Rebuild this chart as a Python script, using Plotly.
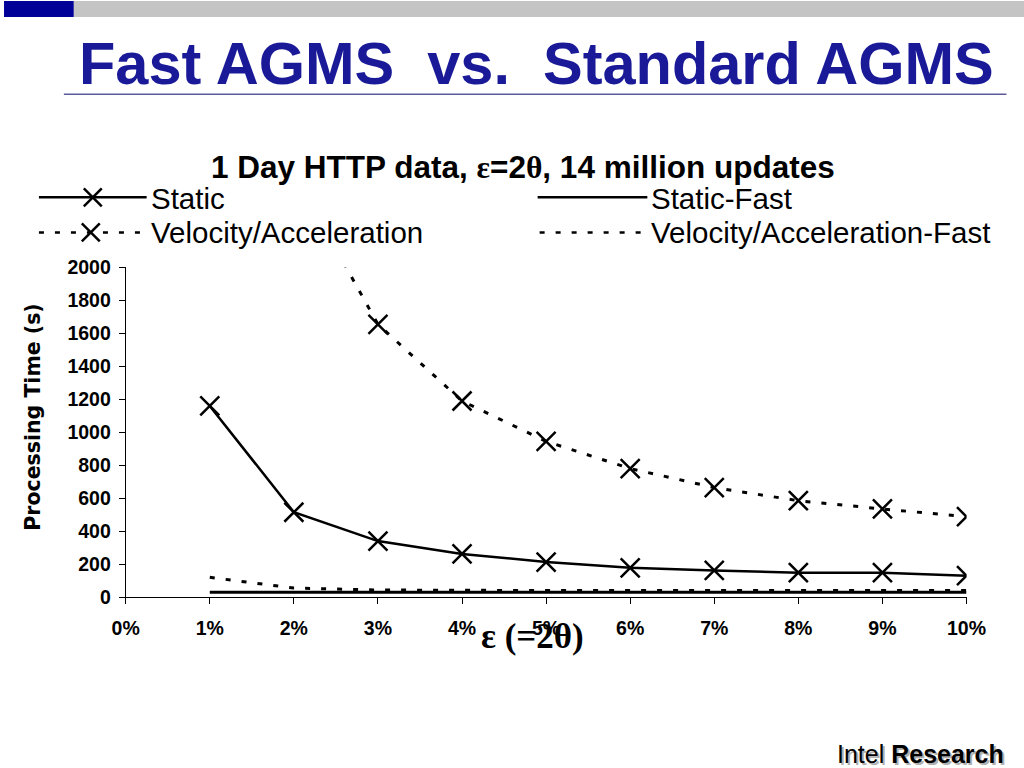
import plotly.graph_objects as go

# ---- data ----
eps = [0.01, 0.02, 0.03, 0.04, 0.05, 0.06, 0.07, 0.08, 0.09, 0.10]
static = [1160, 515, 340, 262, 213, 178, 162, 148, 148, 130]
static_fast = [30, 30, 30, 30, 30, 30, 30, 30, 30, 30]
vel_acc = [4200, 2570, 1655, 1190, 945, 780, 665, 585, 535, 488]
vel_acc_fast = [120, 55, 43, 40, 40, 40, 40, 40, 40, 40]
x_ticks = [0, 0.01, 0.02, 0.03, 0.04, 0.05, 0.06, 0.07, 0.08, 0.09, 0.10]
x_tick_labels = ["0%", "1%", "2%", "3%", "4%", "5%", "6%", "7%", "8%", "9%", "10%"]
y_ticks = [0, 200, 400, 600, 800, 1000, 1200, 1400, 1600, 1800, 2000]

# placement of the figure in the photographed window (measured)
OX, OY, S = 10, 10, 0.97
W, H = 1045, 782
def px(x):
    return (x - OX) / S / W
def py(y):
    return 1 - (y - OY) / S / H

DASH = "5px,11px"

fig = go.Figure()
fig.add_trace(go.Scatter(x=eps, y=static, mode="lines+markers", name="Static",
                         line=dict(color="black", width=2.5),
                         marker=dict(symbol="x-thin", size=19, line=dict(color="black", width=2.5))))
fig.add_trace(go.Scatter(x=eps, y=static_fast, mode="lines", name="Static-Fast",
                         line=dict(color="black", width=3)))
fig.add_trace(go.Scatter(x=eps, y=vel_acc, mode="lines+markers", name="Velocity/Acceleration",
                         line=dict(color="black", width=3, dash=DASH),
                         marker=dict(symbol="x-thin", size=19, line=dict(color="black", width=2.5))))
fig.add_trace(go.Scatter(x=eps, y=vel_acc_fast, mode="lines", name="Velocity/Acceleration-Fast",
                         line=dict(color="black", width=3, dash=DASH)))

tick_font = dict(family="Liberation Sans, Arial", size=19.5, color="black", weight="bold")

fig.update_layout(
    width=W, height=H,
    margin=dict(l=0, r=0, t=0, b=0),
    paper_bgcolor="white", plot_bgcolor="white",
    showlegend=False,
    xaxis=dict(domain=[px(122), px(965)], range=[0, 0.10], tickvals=x_ticks, ticktext=x_tick_labels,
               showline=True, linecolor="black", linewidth=1, ticks="outside", ticklen=6,
               tickcolor="black", showgrid=False, zeroline=False, tickfont=tick_font,
               ticklabelstandoff=7),
    yaxis=dict(domain=[py(595), py(266)], range=[0, 2000], tickvals=y_ticks,
               showline=True, linecolor="black", linewidth=1, ticks="outside", ticklen=6,
               tickcolor="black", showgrid=False, zeroline=False, tickfont=tick_font,
               ticklabelstandoff=4),
)

shapes = []
shapes.append(dict(type="rect", xref="paper", yref="paper", x0=px(0), x1=px(70), y0=py(16), y1=py(0),
                   fillcolor="#000099", line=dict(width=0), layer="above"))
shapes.append(dict(type="rect", xref="paper", yref="paper", x0=px(70), x1=px(1024), y0=py(16), y1=py(0),
                   fillcolor="#C4C4C4", line=dict(width=0), layer="above"))
shapes.append(dict(type="line", xref="paper", yref="paper", x0=px(60), x1=px(1005), y0=py(93), y1=py(93),
                   line=dict(color="#5A5A9A", width=1.5)))

def leg_line(x0, x1, y, dash):
    shapes.append(dict(type="line", xref="paper", yref="paper", x0=px(x0), x1=px(x1), y0=py(y), y1=py(y),
                       line=dict(color="black", width=2.5, dash=dash)))
def leg_x(cx, cy, r=9):
    for dy in (-r, r):
        shapes.append(dict(type="line", xref="paper", yref="paper", x0=px(cx - r), x1=px(cx + r),
                           y0=py(cy - dy), y1=py(cy + dy), line=dict(color="black", width=2.5)))

leg_line(35, 143, 196, "solid"); leg_x(89, 196)
leg_line(535, 645, 196, "solid")
leg_line(35, 143, 231, DASH); leg_x(87, 231)
leg_line(537, 642, 231, DASH)
fig.update_layout(shapes=shapes)

ann = []
ann.append(dict(text="Fast AGMS\u00a0\u00a0vs.\u00a0\u00a0Standard AGMS", x=px(534), y=py(62), xref="paper", yref="paper",
                showarrow=False, xanchor="center", yanchor="middle",
                font=dict(family="Liberation Sans, Arial", size=59.5, color="#1A1A99", weight="bold")))
ann.append(dict(text="1 Day HTTP data, <span style='font-family:Liberation Serif'>ε</span>=2<span style='font-family:Liberation Serif'>θ</span>, 14 million updates",
                x=px(520), y=py(166), xref="paper", yref="paper", showarrow=False,
                xanchor="center", yanchor="middle",
                font=dict(family="Liberation Sans, Arial", size=31.5, color="black", weight="bold")))
for t, x, y in [("Static", 145, 197), ("Static-Fast", 647, 197),
                ("Velocity/Acceleration", 145, 231), ("Velocity/Acceleration-Fast", 647, 231)]:
    ann.append(dict(text=t, x=px(x), y=py(y), xref="paper", yref="paper", showarrow=False,
                    xanchor="left", yanchor="middle",
                    font=dict(family="Liberation Sans, Arial", size=29.5, color="black")))
ann.append(dict(text="Processing Time (s)", x=px(29), y=py(415), xref="paper", yref="paper", showarrow=False,
                textangle=-90, xanchor="center", yanchor="middle",
                font=dict(family="DejaVu Sans", size=20.5, color="black", weight="bold")))
ann.append(dict(text="ε (=2θ)", x=px(530), y=py(634), xref="paper", yref="paper", showarrow=False,
                xanchor="center", yanchor="middle",
                font=dict(family="Liberation Serif, serif", size=35, color="black", weight="bold")))
ann.append(dict(text="Intel <b>Research</b>", x=px(1007), y=py(754), xref="paper", yref="paper", showarrow=False,
                xanchor="right", yanchor="middle",
                font=dict(family="Liberation Sans, Arial", size=25, color="#B0B0B0")))
ann.append(dict(text="Intel <b>Research</b>", x=px(1005), y=py(752), xref="paper", yref="paper", showarrow=False,
                xanchor="right", yanchor="middle",
                font=dict(family="Liberation Sans, Arial", size=25, color="black")))
fig.update_layout(annotations=ann)

fig.write_html("out.html", config={"displayModeBar": False},
               post_script="document.body.style.margin='0';")
